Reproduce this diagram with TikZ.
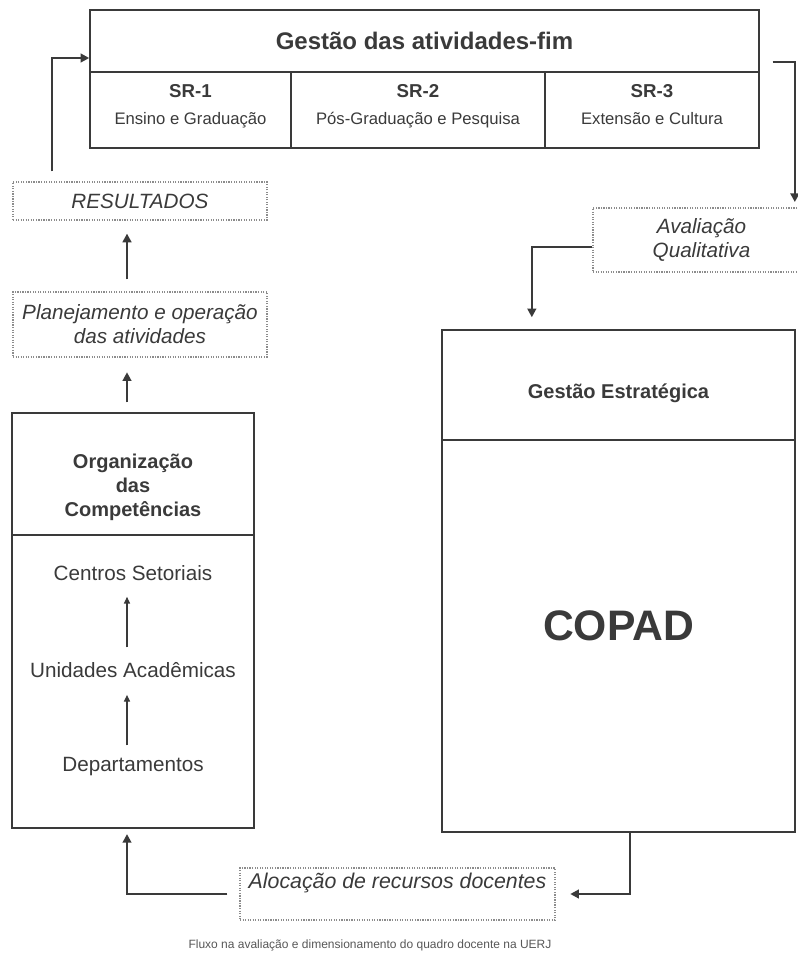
\documentclass[tikz,border=0pt]{standalone}
\usepackage{fontspec}
\setmainfont{Liberation Sans}
\usetikzlibrary{arrows.meta}

\definecolor{ink}{HTML}{3A3A3A}
\definecolor{dotgray}{HTML}{8C8C8C}
\newcommand{\fsz}[2]{\fontsize{#1}{#2}\selectfont}

\begin{document}
\begin{tikzpicture}[x=0.75pt,y=-0.75pt,
    box/.style={draw=ink,line width=1.1pt,rectangle,inner sep=0pt},
    dotbox/.style={draw=dotgray,densely dotted,line width=0.9pt,rectangle,inner sep=0pt,text=ink,align=center},
    txt/.style={text=ink,align=center,inner sep=0pt},
    flow/.style={draw=ink,line width=2pt,-{Triangle[length=6.5pt,width=6.5pt]}},
    subflow/.style={draw=ink,line width=0.8pt,-{Triangle[length=5pt,width=4.5pt]}}]
    \useasboundingbox (0,0) rectangle (798,961);

    % atividades-fim
    \node[box,minimum width=501.75pt,minimum height=46.5pt] (title) at (424.5,41) {};
    \node[txt] (titletxt) at (title) {\fsz{18}{22}\bfseries Gestão das atividades-fim};
    \node[box,minimum width=150.75pt,minimum height=57pt] (sr1) at (190.5,110) {};
    \node[box,minimum width=190.5pt,minimum height=57pt] (sr2) at (418,110) {};
    \node[box,minimum width=160.5pt,minimum height=57pt] (sr3) at (652,110) {};
    \node[txt,font=\fsz{12.5}{15}] (sr1txt) at ([yshift=2pt]sr1) {\textbf{\fsz{14}{17}SR-1}\\[5pt]\strut Ensino e Graduação};
    \node[txt,font=\fsz{12.5}{15}] (sr2txt) at ([yshift=2pt]sr2) {\textbf{\fsz{14}{17}SR-2}\\[5pt]\strut Pós-Graduação e Pesquisa};
    \node[txt,font=\fsz{12.5}{15}] (sr3txt) at ([yshift=2pt]sr3) {\textbf{\fsz{14}{17}SR-3}\\[5pt]\strut Extensão e Cultura};

    % coluna da esquerda
    \node[dotbox,minimum width=190.5pt,minimum height=28.5pt,font=\fsz{15.5}{18}\itshape] (res) at (140,201) {RESULTADOS};
    \node[dotbox,minimum width=190.5pt,minimum height=48.75pt,font=\fsz{15.5}{18}\itshape] (plan) at (140,324.5) {Planejamento e operação\\das atividades};
    \node[box,minimum width=181.5pt,minimum height=91.5pt] (orgh) at (133,474) {};
    \node[box,minimum width=181.5pt,minimum height=219.75pt] (orgb) at (133,681.5) {};
    \node[txt,font=\fsz{15}{18}\bfseries] (orgtxt) at ([yshift=-10pt]orgh) {Organização\\das\\Competências};
    \node[txt,font=\fsz{15.5}{18}] (cen) at (133,573) {Centros Setoriais};
    \node[txt,font=\fsz{15.5}{18}] (uni) at (133,670) {Unidades Acadêmicas};
    \node[txt,font=\fsz{15.5}{18}] (dep) at (133,767) {Departamentos};
    \draw[subflow,shorten <=11pt,shorten >=12pt] ([xshift=-4.5pt]uni.north) -- ([xshift=-4.5pt]cen.south);
    \draw[subflow,shorten <=9pt,shorten >=12.75pt] ([xshift=-4.5pt]dep.north) -- ([xshift=-4.5pt]uni.south);

    % coluna da direita
    \node[dotbox,minimum width=162.75pt,minimum height=48pt,font=\fsz{15.5}{17.5}\itshape] (aval) at (701.5,240) {Avaliação\\Qualitativa};
    \node[box,minimum width=264.75pt,minimum height=82.5pt] (gest) at (618.5,385) {};
    \node[box,minimum width=264.75pt,minimum height=294pt] (copad) at (618.5,636) {};
    \node[txt,font=\fsz{15}{18}\bfseries] (gesttxt) at ([yshift=-6pt]gest) {Gestão Estratégica};
    \node[txt,font=\fsz{32}{38}\bfseries] (copadtxt) at ([yshift=8pt]copad) {COPAD};

    % base
    \node[dotbox,minimum width=236.25pt,minimum height=39pt] (aloc) at (397.5,894) {};
    \node[txt,font=\fsz{16}{19}\itshape] (aloctxt) at ([yshift=8pt]aloc) {Alocação de recursos docentes};
    \node[txt,font=\fsz{9}{11},text=ink!85] (caption) at (370,945) {Fluxo na avaliação e dimensionamento do quadro docente na UERJ};

    % fluxo
    \draw[flow,shorten <=7.5pt] ([xshift=-66pt]res.north) |- ([yshift=-12.75pt]title.west);
    \draw[flow,shorten >=4pt] ([xshift=9.75pt,yshift=-15.75pt]title.east) -| ([xshift=70pt]aval.north);
    \draw[flow,shorten >=9pt] ([yshift=-5.25pt]aval.west) -| ([xshift=-65pt]gest.north);
    \draw[flow,shorten >=11pt] ([xshift=8.6pt]copad.south) |- (aloc.east);
    \draw[flow,shorten <=9pt,shorten >=4pt] (aloc.west) -| ([xshift=-4.5pt]orgb.south);
    \draw[flow,shorten <=7.5pt,shorten >=11pt] ([xshift=-4.5pt]orgh.north) -- ([xshift=-9.75pt]plan.south);
    \draw[flow,shorten <=9pt,shorten >=9.75pt] ([xshift=-9.75pt]plan.north) -- ([xshift=-9.75pt]res.south);
\end{tikzpicture}
\end{document}
